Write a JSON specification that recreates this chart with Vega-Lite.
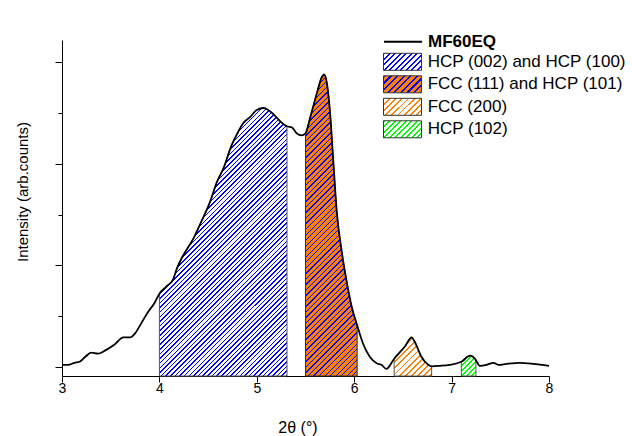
{
"$schema":"https://vega.github.io/schema/vega-lite/v6.json",
"width":487,"height":336,"autosize":"none",
"padding":{"left":62,"top":40,"right":83,"bottom":60},
"background":"#ffffff",
"config":{"view":{"stroke":null},"axis":{"grid":false,"domainColor":"#000","tickColor":"#000","labelColor":"#000","titleColor":"#000","labelFont":"Liberation Sans","titleFont":"Liberation Sans","zindex":1,"domainWidth":1,"tickWidth":1}},
"data":{"values":[{"x":3,"y":0.02},{"x":3.06,"y":0.02},{"x":3.13,"y":0.04},{"x":3.18,"y":0.05},{"x":3.24,"y":0.1},{"x":3.3,"y":0.14},{"x":3.37,"y":0.13},{"x":3.44,"y":0.16},{"x":3.54,"y":0.22},{"x":3.63,"y":0.29},{"x":3.7,"y":0.29},{"x":3.75,"y":0.33},{"x":3.82,"y":0.44},{"x":3.89,"y":0.55},{"x":3.95,"y":0.63},{"x":4,"y":0.72},{"x":4.07,"y":0.79},{"x":4.14,"y":0.86},{"x":4.18,"y":0.97},{"x":4.245,"y":1.1},{"x":4.35,"y":1.265},{"x":4.43,"y":1.43},{"x":4.52,"y":1.625},{"x":4.59,"y":1.82},{"x":4.655,"y":1.95},{"x":4.74,"y":2.18},{"x":4.79,"y":2.28},{"x":4.86,"y":2.4},{"x":4.93,"y":2.46},{"x":5,"y":2.53},{"x":5.07,"y":2.55},{"x":5.1,"y":2.54},{"x":5.17,"y":2.49},{"x":5.24,"y":2.42},{"x":5.31,"y":2.37},{"x":5.36,"y":2.36},{"x":5.41,"y":2.3},{"x":5.46,"y":2.28},{"x":5.5,"y":2.3},{"x":5.545,"y":2.445},{"x":5.615,"y":2.69},{"x":5.665,"y":2.85},{"x":5.69,"y":2.88},{"x":5.715,"y":2.82},{"x":5.75,"y":2.53},{"x":5.785,"y":2.035},{"x":5.82,"y":1.54},{"x":5.87,"y":1.15},{"x":5.92,"y":0.855},{"x":5.975,"y":0.59},{"x":6.03,"y":0.41},{"x":6.09,"y":0.23},{"x":6.16,"y":0.1},{"x":6.23,"y":0.036},{"x":6.28,"y":0.02},{"x":6.33,"y":-0.02},{"x":6.41,"y":0.08},{"x":6.52,"y":0.2},{"x":6.59,"y":0.29},{"x":6.62,"y":0.25},{"x":6.69,"y":0.1},{"x":6.76,"y":0.02},{"x":6.795,"y":0.005},{"x":6.88,"y":0.01},{"x":6.98,"y":0.02},{"x":7.1,"y":0.05},{"x":7.19,"y":0.11},{"x":7.24,"y":0.08},{"x":7.25,"y":0.065},{"x":7.29,"y":0.01},{"x":7.36,"y":0.02},{"x":7.43,"y":0.04},{"x":7.48,"y":0.02},{"x":7.565,"y":0.03},{"x":7.7,"y":0.04},{"x":7.84,"y":0.03},{"x":8,"y":0.01}]},
"encoding":{
"x":{"field":"x","type":"quantitative","scale":{"domain":[3,8],"nice":false,"zero":false},"axis":{"values":[3,3.5,4,4.5,5,5.5,6,6.5,7,7.5,8],"format":"d","labelExpr":"datum.value % 1 === 0 ? datum.label : ''","labelFlush":false,"labelOverlap":false,"labelFontSize":14,"labelPadding":-1,"tickSize":{"condition":{"test":"datum.value % 1 === 0","value":6},"value":3.5},"title":"2θ (°)","titleFontSize":16,"titleFontWeight":"normal","titleX":235.5,"titleY":51,"titleBaseline":"middle","titleAlign":"center"}},
"y":{"field":"y","type":"quantitative","scale":{"domain":[-0.09,3.22],"nice":false,"zero":false},"axis":{"values":[0,0.5,1,1.5,2,2.5,3],"labels":false,"tickSize":{"condition":{"test":"datum.value % 1 === 0","value":7},"value":4},"title":"Intensity (arb.counts)","titleFontSize":15,"titleFontWeight":"normal","titleX":-40,"titleY":151.5,"titleBaseline":"middle","titleAlign":"center"}}
},
"layer":[
{"transform":[{"filter":{"field":"x","range":[4,5.31]}}],"mark":{"type":"area","interpolate":"monotone"},"encoding":{"y2":{"datum":-0.09},"color":{"datum":"HCP (002) and HCP (100)","type":"nominal","scale":{"domain":["HCP (002) and HCP (100)","FCC (111) and HCP (101)","FCC (200)","HCP (102)"],"range":[
{"expr":"{gradient:'linear',x1:0,y1:0,x2:1.206,y2:0.543,stops:[{offset:0,color:'#00f'},{offset:0.033,color:'#00f'},{offset:0.033,color:'#fff'},{offset:0.1,color:'#fff'},{offset:0.1,color:'#00f'},{offset:0.133,color:'#00f'},{offset:0.133,color:'#fff'},{offset:0.2,color:'#fff'},{offset:0.2,color:'#00f'},{offset:0.233,color:'#00f'},{offset:0.233,color:'#fff'},{offset:0.3,color:'#fff'},{offset:0.3,color:'#00f'},{offset:0.333,color:'#00f'},{offset:0.333,color:'#fff'},{offset:0.4,color:'#fff'},{offset:0.4,color:'#00f'},{offset:0.433,color:'#00f'},{offset:0.433,color:'#fff'},{offset:0.5,color:'#fff'},{offset:0.5,color:'#00f'},{offset:0.533,color:'#00f'},{offset:0.533,color:'#fff'},{offset:0.6,color:'#fff'},{offset:0.6,color:'#00f'},{offset:0.633,color:'#00f'},{offset:0.633,color:'#fff'},{offset:0.7,color:'#fff'},{offset:0.7,color:'#00f'},{offset:0.733,color:'#00f'},{offset:0.733,color:'#fff'},{offset:0.8,color:'#fff'},{offset:0.8,color:'#00f'},{offset:0.833,color:'#00f'},{offset:0.833,color:'#fff'},{offset:0.9,color:'#fff'},{offset:0.9,color:'#00f'},{offset:0.933,color:'#00f'},{offset:0.933,color:'#fff'},{offset:1,color:'#fff'}]}"},
{"expr":"{gradient:'linear',x1:0,y1:0,x2:1.206,y2:0.543,stops:[{offset:0,color:'#00f'},{offset:0.04,color:'#00f'},{offset:0.04,color:'#ff8000'},{offset:0.12,color:'#ff8000'},{offset:0.12,color:'#00f'},{offset:0.16,color:'#00f'},{offset:0.16,color:'#ff8000'},{offset:0.24,color:'#ff8000'},{offset:0.24,color:'#00f'},{offset:0.28,color:'#00f'},{offset:0.28,color:'#ff8000'},{offset:0.36,color:'#ff8000'},{offset:0.36,color:'#00f'},{offset:0.4,color:'#00f'},{offset:0.4,color:'#ff8000'},{offset:0.48,color:'#ff8000'},{offset:0.48,color:'#00f'},{offset:0.52,color:'#00f'},{offset:0.52,color:'#ff8000'},{offset:0.6,color:'#ff8000'},{offset:0.6,color:'#00f'},{offset:0.64,color:'#00f'},{offset:0.64,color:'#ff8000'},{offset:0.72,color:'#ff8000'},{offset:0.72,color:'#00f'},{offset:0.76,color:'#00f'},{offset:0.76,color:'#ff8000'},{offset:0.84,color:'#ff8000'},{offset:0.84,color:'#00f'},{offset:0.88,color:'#00f'},{offset:0.88,color:'#ff8000'},{offset:0.96,color:'#ff8000'},{offset:0.96,color:'#00f'},{offset:1,color:'#00f'}]}"},
{"expr":"{gradient:'linear',x1:0,y1:0,x2:1.206,y2:0.543,stops:[{offset:0,color:'#ff8000'},{offset:0.035,color:'#ff8000'},{offset:0.035,color:'#fff'},{offset:0.11,color:'#fff'},{offset:0.11,color:'#ff8000'},{offset:0.145,color:'#ff8000'},{offset:0.145,color:'#fff'},{offset:0.22,color:'#fff'},{offset:0.22,color:'#ff8000'},{offset:0.255,color:'#ff8000'},{offset:0.255,color:'#fff'},{offset:0.33,color:'#fff'},{offset:0.33,color:'#ff8000'},{offset:0.365,color:'#ff8000'},{offset:0.365,color:'#fff'},{offset:0.44,color:'#fff'},{offset:0.44,color:'#ff8000'},{offset:0.475,color:'#ff8000'},{offset:0.475,color:'#fff'},{offset:0.55,color:'#fff'},{offset:0.55,color:'#ff8000'},{offset:0.585,color:'#ff8000'},{offset:0.585,color:'#fff'},{offset:0.66,color:'#fff'},{offset:0.66,color:'#ff8000'},{offset:0.695,color:'#ff8000'},{offset:0.695,color:'#fff'},{offset:0.77,color:'#fff'},{offset:0.77,color:'#ff8000'},{offset:0.805,color:'#ff8000'},{offset:0.805,color:'#fff'},{offset:0.88,color:'#fff'},{offset:0.88,color:'#ff8000'},{offset:0.915,color:'#ff8000'},{offset:0.915,color:'#fff'},{offset:0.99,color:'#fff'},{offset:0.99,color:'#ff8000'},{offset:1,color:'#ff8000'}]}"},
{"expr":"{gradient:'linear',x1:0,y1:0,x2:1.206,y2:0.543,stops:[{offset:0,color:'#0f0'},{offset:0.035,color:'#0f0'},{offset:0.035,color:'#fff'},{offset:0.1,color:'#fff'},{offset:0.1,color:'#0f0'},{offset:0.135,color:'#0f0'},{offset:0.135,color:'#fff'},{offset:0.2,color:'#fff'},{offset:0.2,color:'#0f0'},{offset:0.235,color:'#0f0'},{offset:0.235,color:'#fff'},{offset:0.3,color:'#fff'},{offset:0.3,color:'#0f0'},{offset:0.335,color:'#0f0'},{offset:0.335,color:'#fff'},{offset:0.4,color:'#fff'},{offset:0.4,color:'#0f0'},{offset:0.435,color:'#0f0'},{offset:0.435,color:'#fff'},{offset:0.5,color:'#fff'},{offset:0.5,color:'#0f0'},{offset:0.535,color:'#0f0'},{offset:0.535,color:'#fff'},{offset:0.6,color:'#fff'},{offset:0.6,color:'#0f0'},{offset:0.635,color:'#0f0'},{offset:0.635,color:'#fff'},{offset:0.7,color:'#fff'},{offset:0.7,color:'#0f0'},{offset:0.735,color:'#0f0'},{offset:0.735,color:'#fff'},{offset:0.8,color:'#fff'},{offset:0.8,color:'#0f0'},{offset:0.835,color:'#0f0'},{offset:0.835,color:'#fff'},{offset:0.9,color:'#fff'},{offset:0.9,color:'#0f0'},{offset:0.935,color:'#0f0'},{offset:0.935,color:'#fff'},{offset:1,color:'#fff'}]}"}
]},"legend":{"title":null,"orient":"none","legendX":331.5,"legendY":12.8,"symbolType":"M-2.235,-1L2.235,-1L2.235,1L-2.235,1Z","symbolSize":289,"symbolStrokeColor":"#333","symbolStrokeWidth":1,"labelFontSize":17,"labelFont":"Liberation Sans","labelColor":"#000","labelOffset":16.2,"rowPadding":0.5,"padding":0,"labelLimit":400}}}},
{"transform":[{"filter":{"field":"x","range":[5.5,6.03]}}],"mark":{"type":"area","interpolate":"monotone"},"encoding":{"y2":{"datum":-0.09},"color":{"datum":"FCC (111) and HCP (101)","type":"nominal"}}},
{"transform":[{"filter":{"field":"x","range":[6.41,6.795]}}],"mark":{"type":"area","interpolate":"monotone"},"encoding":{"y2":{"datum":-0.09},"color":{"datum":"FCC (200)","type":"nominal"}}},
{"transform":[{"filter":{"field":"x","range":[7.1,7.25]}}],"mark":{"type":"area","interpolate":"monotone"},"encoding":{"y2":{"datum":-0.09},"color":{"datum":"HCP (102)","type":"nominal"}}},
{"transform":[{"filter":{"field":"x","range":[4,5.31]}}],"mark":{"type":"area","interpolate":"monotone","stroke":"#555","strokeWidth":1,"fill":{"gradient":"linear","x1":0,"y1":0,"x2":0.5729,"y2":1.2033,"stops":[
{"offset":0,"color":"#00f"},{"offset":0.00391,"color":"#00f"},{"offset":0.00391,"color":"#fff"},{"offset":0.01172,"color":"#fff"},
{"offset":0.01172,"color":"#00f"},{"offset":0.01563,"color":"#00f"},{"offset":0.01563,"color":"#fff"},{"offset":0.02344,"color":"#fff"},
{"offset":0.02344,"color":"#00f"},{"offset":0.02734,"color":"#00f"},{"offset":0.02734,"color":"#fff"},{"offset":0.03516,"color":"#fff"},
{"offset":0.03516,"color":"#00f"},{"offset":0.03906,"color":"#00f"},{"offset":0.03906,"color":"#fff"},{"offset":0.04688,"color":"#fff"},
{"offset":0.04688,"color":"#00f"},{"offset":0.05078,"color":"#00f"},{"offset":0.05078,"color":"#fff"},{"offset":0.05859,"color":"#fff"},
{"offset":0.05859,"color":"#00f"},{"offset":0.0625,"color":"#00f"},{"offset":0.0625,"color":"#fff"},{"offset":0.07031,"color":"#fff"},
{"offset":0.07031,"color":"#00f"},{"offset":0.07422,"color":"#00f"},{"offset":0.07422,"color":"#fff"},{"offset":0.08203,"color":"#fff"},
{"offset":0.08203,"color":"#00f"},{"offset":0.08594,"color":"#00f"},{"offset":0.08594,"color":"#fff"},{"offset":0.09375,"color":"#fff"},
{"offset":0.09375,"color":"#00f"},{"offset":0.09766,"color":"#00f"},{"offset":0.09766,"color":"#fff"},{"offset":0.10547,"color":"#fff"},
{"offset":0.10547,"color":"#00f"},{"offset":0.10938,"color":"#00f"},{"offset":0.10938,"color":"#fff"},{"offset":0.11719,"color":"#fff"},
{"offset":0.11719,"color":"#00f"},{"offset":0.12109,"color":"#00f"},{"offset":0.12109,"color":"#fff"},{"offset":0.12891,"color":"#fff"},
{"offset":0.12891,"color":"#00f"},{"offset":0.13281,"color":"#00f"},{"offset":0.13281,"color":"#fff"},{"offset":0.14063,"color":"#fff"},
{"offset":0.14063,"color":"#00f"},{"offset":0.14453,"color":"#00f"},{"offset":0.14453,"color":"#fff"},{"offset":0.15234,"color":"#fff"},
{"offset":0.15234,"color":"#00f"},{"offset":0.15625,"color":"#00f"},{"offset":0.15625,"color":"#fff"},{"offset":0.16406,"color":"#fff"},
{"offset":0.16406,"color":"#00f"},{"offset":0.16797,"color":"#00f"},{"offset":0.16797,"color":"#fff"},{"offset":0.17578,"color":"#fff"},
{"offset":0.17578,"color":"#00f"},{"offset":0.17969,"color":"#00f"},{"offset":0.17969,"color":"#fff"},{"offset":0.1875,"color":"#fff"},
{"offset":0.1875,"color":"#00f"},{"offset":0.19141,"color":"#00f"},{"offset":0.19141,"color":"#fff"},{"offset":0.19922,"color":"#fff"},
{"offset":0.19922,"color":"#00f"},{"offset":0.20313,"color":"#00f"},{"offset":0.20313,"color":"#fff"},{"offset":0.21094,"color":"#fff"},
{"offset":0.21094,"color":"#00f"},{"offset":0.21484,"color":"#00f"},{"offset":0.21484,"color":"#fff"},{"offset":0.22266,"color":"#fff"},
{"offset":0.22266,"color":"#00f"},{"offset":0.22656,"color":"#00f"},{"offset":0.22656,"color":"#fff"},{"offset":0.23438,"color":"#fff"},
{"offset":0.23438,"color":"#00f"},{"offset":0.23828,"color":"#00f"},{"offset":0.23828,"color":"#fff"},{"offset":0.24609,"color":"#fff"},
{"offset":0.24609,"color":"#00f"},{"offset":0.25,"color":"#00f"},{"offset":0.25,"color":"#fff"},{"offset":0.25781,"color":"#fff"},
{"offset":0.25781,"color":"#00f"},{"offset":0.26172,"color":"#00f"},{"offset":0.26172,"color":"#fff"},{"offset":0.26953,"color":"#fff"},
{"offset":0.26953,"color":"#00f"},{"offset":0.27344,"color":"#00f"},{"offset":0.27344,"color":"#fff"},{"offset":0.28125,"color":"#fff"},
{"offset":0.28125,"color":"#00f"},{"offset":0.28516,"color":"#00f"},{"offset":0.28516,"color":"#fff"},{"offset":0.29297,"color":"#fff"},
{"offset":0.29297,"color":"#00f"},{"offset":0.29688,"color":"#00f"},{"offset":0.29688,"color":"#fff"},{"offset":0.30469,"color":"#fff"},
{"offset":0.30469,"color":"#00f"},{"offset":0.30859,"color":"#00f"},{"offset":0.30859,"color":"#fff"},{"offset":0.31641,"color":"#fff"},
{"offset":0.31641,"color":"#00f"},{"offset":0.32031,"color":"#00f"},{"offset":0.32031,"color":"#fff"},{"offset":0.32813,"color":"#fff"},
{"offset":0.32813,"color":"#00f"},{"offset":0.33203,"color":"#00f"},{"offset":0.33203,"color":"#fff"},{"offset":0.33984,"color":"#fff"},
{"offset":0.33984,"color":"#00f"},{"offset":0.34375,"color":"#00f"},{"offset":0.34375,"color":"#fff"},{"offset":0.35156,"color":"#fff"},
{"offset":0.35156,"color":"#00f"},{"offset":0.35547,"color":"#00f"},{"offset":0.35547,"color":"#fff"},{"offset":0.36328,"color":"#fff"},
{"offset":0.36328,"color":"#00f"},{"offset":0.36719,"color":"#00f"},{"offset":0.36719,"color":"#fff"},{"offset":0.375,"color":"#fff"},
{"offset":0.375,"color":"#00f"},{"offset":0.37891,"color":"#00f"},{"offset":0.37891,"color":"#fff"},{"offset":0.38672,"color":"#fff"},
{"offset":0.38672,"color":"#00f"},{"offset":0.39063,"color":"#00f"},{"offset":0.39063,"color":"#fff"},{"offset":0.39844,"color":"#fff"},
{"offset":0.39844,"color":"#00f"},{"offset":0.40234,"color":"#00f"},{"offset":0.40234,"color":"#fff"},{"offset":0.41016,"color":"#fff"},
{"offset":0.41016,"color":"#00f"},{"offset":0.41406,"color":"#00f"},{"offset":0.41406,"color":"#fff"},{"offset":0.42188,"color":"#fff"},
{"offset":0.42188,"color":"#00f"},{"offset":0.42578,"color":"#00f"},{"offset":0.42578,"color":"#fff"},{"offset":0.43359,"color":"#fff"},
{"offset":0.43359,"color":"#00f"},{"offset":0.4375,"color":"#00f"},{"offset":0.4375,"color":"#fff"},{"offset":0.44531,"color":"#fff"},
{"offset":0.44531,"color":"#00f"},{"offset":0.44922,"color":"#00f"},{"offset":0.44922,"color":"#fff"},{"offset":0.45703,"color":"#fff"},
{"offset":0.45703,"color":"#00f"},{"offset":0.46094,"color":"#00f"},{"offset":0.46094,"color":"#fff"},{"offset":0.46875,"color":"#fff"},
{"offset":0.46875,"color":"#00f"},{"offset":0.47266,"color":"#00f"},{"offset":0.47266,"color":"#fff"},{"offset":0.48047,"color":"#fff"},
{"offset":0.48047,"color":"#00f"},{"offset":0.48438,"color":"#00f"},{"offset":0.48438,"color":"#fff"},{"offset":0.49219,"color":"#fff"},
{"offset":0.49219,"color":"#00f"},{"offset":0.49609,"color":"#00f"},{"offset":0.49609,"color":"#fff"},{"offset":0.50391,"color":"#fff"},
{"offset":0.50391,"color":"#00f"},{"offset":0.50781,"color":"#00f"},{"offset":0.50781,"color":"#fff"},{"offset":0.51563,"color":"#fff"},
{"offset":0.51563,"color":"#00f"},{"offset":0.51953,"color":"#00f"},{"offset":0.51953,"color":"#fff"},{"offset":0.52734,"color":"#fff"},
{"offset":0.52734,"color":"#00f"},{"offset":0.53125,"color":"#00f"},{"offset":0.53125,"color":"#fff"},{"offset":0.53906,"color":"#fff"},
{"offset":0.53906,"color":"#00f"},{"offset":0.54297,"color":"#00f"},{"offset":0.54297,"color":"#fff"},{"offset":0.55078,"color":"#fff"},
{"offset":0.55078,"color":"#00f"},{"offset":0.55469,"color":"#00f"},{"offset":0.55469,"color":"#fff"},{"offset":0.5625,"color":"#fff"},
{"offset":0.5625,"color":"#00f"},{"offset":0.56641,"color":"#00f"},{"offset":0.56641,"color":"#fff"},{"offset":0.57422,"color":"#fff"},
{"offset":0.57422,"color":"#00f"},{"offset":0.57813,"color":"#00f"},{"offset":0.57813,"color":"#fff"},{"offset":0.58594,"color":"#fff"},
{"offset":0.58594,"color":"#00f"},{"offset":0.58984,"color":"#00f"},{"offset":0.58984,"color":"#fff"},{"offset":0.59766,"color":"#fff"},
{"offset":0.59766,"color":"#00f"},{"offset":0.60156,"color":"#00f"},{"offset":0.60156,"color":"#fff"},{"offset":0.60938,"color":"#fff"},
{"offset":0.60938,"color":"#00f"},{"offset":0.61328,"color":"#00f"},{"offset":0.61328,"color":"#fff"},{"offset":0.62109,"color":"#fff"},
{"offset":0.62109,"color":"#00f"},{"offset":0.625,"color":"#00f"},{"offset":0.625,"color":"#fff"},{"offset":0.63281,"color":"#fff"},
{"offset":0.63281,"color":"#00f"},{"offset":0.63672,"color":"#00f"},{"offset":0.63672,"color":"#fff"},{"offset":0.64453,"color":"#fff"},
{"offset":0.64453,"color":"#00f"},{"offset":0.64844,"color":"#00f"},{"offset":0.64844,"color":"#fff"},{"offset":0.65625,"color":"#fff"},
{"offset":0.65625,"color":"#00f"},{"offset":0.66016,"color":"#00f"},{"offset":0.66016,"color":"#fff"},{"offset":0.66797,"color":"#fff"},
{"offset":0.66797,"color":"#00f"},{"offset":0.67188,"color":"#00f"},{"offset":0.67188,"color":"#fff"},{"offset":0.67969,"color":"#fff"},
{"offset":0.67969,"color":"#00f"},{"offset":0.68359,"color":"#00f"},{"offset":0.68359,"color":"#fff"},{"offset":0.69141,"color":"#fff"},
{"offset":0.69141,"color":"#00f"},{"offset":0.69531,"color":"#00f"},{"offset":0.69531,"color":"#fff"},{"offset":0.70313,"color":"#fff"},
{"offset":0.70313,"color":"#00f"},{"offset":0.70703,"color":"#00f"},{"offset":0.70703,"color":"#fff"},{"offset":0.71484,"color":"#fff"},
{"offset":0.71484,"color":"#00f"},{"offset":0.71875,"color":"#00f"},{"offset":0.71875,"color":"#fff"},{"offset":0.72656,"color":"#fff"},
{"offset":0.72656,"color":"#00f"},{"offset":0.73047,"color":"#00f"},{"offset":0.73047,"color":"#fff"},{"offset":0.73828,"color":"#fff"},
{"offset":0.73828,"color":"#00f"},{"offset":0.74219,"color":"#00f"},{"offset":0.74219,"color":"#fff"},{"offset":0.75,"color":"#fff"},
{"offset":0.75,"color":"#00f"},{"offset":0.75391,"color":"#00f"},{"offset":0.75391,"color":"#fff"},{"offset":0.76172,"color":"#fff"},
{"offset":0.76172,"color":"#00f"},{"offset":0.76563,"color":"#00f"},{"offset":0.76563,"color":"#fff"},{"offset":0.77344,"color":"#fff"},
{"offset":0.77344,"color":"#00f"},{"offset":0.77734,"color":"#00f"},{"offset":0.77734,"color":"#fff"},{"offset":0.78516,"color":"#fff"},
{"offset":0.78516,"color":"#00f"},{"offset":0.78906,"color":"#00f"},{"offset":0.78906,"color":"#fff"},{"offset":0.79688,"color":"#fff"},
{"offset":0.79688,"color":"#00f"},{"offset":0.80078,"color":"#00f"},{"offset":0.80078,"color":"#fff"},{"offset":0.80859,"color":"#fff"},
{"offset":0.80859,"color":"#00f"},{"offset":0.8125,"color":"#00f"},{"offset":0.8125,"color":"#fff"},{"offset":0.82031,"color":"#fff"},
{"offset":0.82031,"color":"#00f"},{"offset":0.82422,"color":"#00f"},{"offset":0.82422,"color":"#fff"},{"offset":0.83203,"color":"#fff"},
{"offset":0.83203,"color":"#00f"},{"offset":0.83594,"color":"#00f"},{"offset":0.83594,"color":"#fff"},{"offset":0.84375,"color":"#fff"},
{"offset":0.84375,"color":"#00f"},{"offset":0.84766,"color":"#00f"},{"offset":0.84766,"color":"#fff"},{"offset":0.85547,"color":"#fff"},
{"offset":0.85547,"color":"#00f"},{"offset":0.85938,"color":"#00f"},{"offset":0.85938,"color":"#fff"},{"offset":0.86719,"color":"#fff"},
{"offset":0.86719,"color":"#00f"},{"offset":0.87109,"color":"#00f"},{"offset":0.87109,"color":"#fff"},{"offset":0.87891,"color":"#fff"},
{"offset":0.87891,"color":"#00f"},{"offset":0.88281,"color":"#00f"},{"offset":0.88281,"color":"#fff"},{"offset":0.89063,"color":"#fff"},
{"offset":0.89063,"color":"#00f"},{"offset":0.89453,"color":"#00f"},{"offset":0.89453,"color":"#fff"},{"offset":0.90234,"color":"#fff"},
{"offset":0.90234,"color":"#00f"},{"offset":0.90625,"color":"#00f"},{"offset":0.90625,"color":"#fff"},{"offset":0.91406,"color":"#fff"},
{"offset":0.91406,"color":"#00f"},{"offset":0.91797,"color":"#00f"},{"offset":0.91797,"color":"#fff"},{"offset":0.92578,"color":"#fff"},
{"offset":0.92578,"color":"#00f"},{"offset":0.92969,"color":"#00f"},{"offset":0.92969,"color":"#fff"},{"offset":0.9375,"color":"#fff"},
{"offset":0.9375,"color":"#00f"},{"offset":0.94141,"color":"#00f"},{"offset":0.94141,"color":"#fff"},{"offset":0.94922,"color":"#fff"},
{"offset":0.94922,"color":"#00f"},{"offset":0.95313,"color":"#00f"},{"offset":0.95313,"color":"#fff"},{"offset":0.96094,"color":"#fff"},
{"offset":0.96094,"color":"#00f"},{"offset":0.96484,"color":"#00f"},{"offset":0.96484,"color":"#fff"},{"offset":0.97266,"color":"#fff"},
{"offset":0.97266,"color":"#00f"},{"offset":0.97656,"color":"#00f"},{"offset":0.97656,"color":"#fff"},{"offset":0.98438,"color":"#fff"},
{"offset":0.98438,"color":"#00f"},{"offset":0.98828,"color":"#00f"},{"offset":0.98828,"color":"#fff"},{"offset":0.99609,"color":"#fff"},
{"offset":0.99609,"color":"#00f"},{"offset":1,"color":"#00f"}
]}},"encoding":{"y2":{"datum":-0.09}}},
{"transform":[{"filter":{"field":"x","range":[5.5,6.03]}}],"mark":{"type":"area","interpolate":"monotone","stroke":"#333","strokeWidth":1,"fill":{"gradient":"linear","x1":0,"y1":0,"x2":0.1947,"y2":1.1378,"stops":[
{"offset":0,"color":"#00f"},{"offset":0.00391,"color":"#00f"},{"offset":0.00391,"color":"#ff8000"},{"offset":0.01563,"color":"#ff8000"},
{"offset":0.01563,"color":"#00f"},{"offset":0.01953,"color":"#00f"},{"offset":0.01953,"color":"#ff8000"},{"offset":0.03125,"color":"#ff8000"},
{"offset":0.03125,"color":"#00f"},{"offset":0.03516,"color":"#00f"},{"offset":0.03516,"color":"#ff8000"},{"offset":0.04688,"color":"#ff8000"},
{"offset":0.04688,"color":"#00f"},{"offset":0.05078,"color":"#00f"},{"offset":0.05078,"color":"#ff8000"},{"offset":0.0625,"color":"#ff8000"},
{"offset":0.0625,"color":"#00f"},{"offset":0.06641,"color":"#00f"},{"offset":0.06641,"color":"#ff8000"},{"offset":0.07813,"color":"#ff8000"},
{"offset":0.07813,"color":"#00f"},{"offset":0.08203,"color":"#00f"},{"offset":0.08203,"color":"#ff8000"},{"offset":0.09375,"color":"#ff8000"},
{"offset":0.09375,"color":"#00f"},{"offset":0.09766,"color":"#00f"},{"offset":0.09766,"color":"#ff8000"},{"offset":0.10938,"color":"#ff8000"},
{"offset":0.10938,"color":"#00f"},{"offset":0.11328,"color":"#00f"},{"offset":0.11328,"color":"#ff8000"},{"offset":0.125,"color":"#ff8000"},
{"offset":0.125,"color":"#00f"},{"offset":0.12891,"color":"#00f"},{"offset":0.12891,"color":"#ff8000"},{"offset":0.14063,"color":"#ff8000"},
{"offset":0.14063,"color":"#00f"},{"offset":0.14453,"color":"#00f"},{"offset":0.14453,"color":"#ff8000"},{"offset":0.15625,"color":"#ff8000"},
{"offset":0.15625,"color":"#00f"},{"offset":0.16016,"color":"#00f"},{"offset":0.16016,"color":"#ff8000"},{"offset":0.17188,"color":"#ff8000"},
{"offset":0.17188,"color":"#00f"},{"offset":0.17578,"color":"#00f"},{"offset":0.17578,"color":"#ff8000"},{"offset":0.1875,"color":"#ff8000"},
{"offset":0.1875,"color":"#00f"},{"offset":0.19141,"color":"#00f"},{"offset":0.19141,"color":"#ff8000"},{"offset":0.20313,"color":"#ff8000"},
{"offset":0.20313,"color":"#00f"},{"offset":0.20703,"color":"#00f"},{"offset":0.20703,"color":"#ff8000"},{"offset":0.21875,"color":"#ff8000"},
{"offset":0.21875,"color":"#00f"},{"offset":0.22266,"color":"#00f"},{"offset":0.22266,"color":"#ff8000"},{"offset":0.23438,"color":"#ff8000"},
{"offset":0.23438,"color":"#00f"},{"offset":0.23828,"color":"#00f"},{"offset":0.23828,"color":"#ff8000"},{"offset":0.25,"color":"#ff8000"},
{"offset":0.25,"color":"#00f"},{"offset":0.25391,"color":"#00f"},{"offset":0.25391,"color":"#ff8000"},{"offset":0.26563,"color":"#ff8000"},
{"offset":0.26563,"color":"#00f"},{"offset":0.26953,"color":"#00f"},{"offset":0.26953,"color":"#ff8000"},{"offset":0.28125,"color":"#ff8000"},
{"offset":0.28125,"color":"#00f"},{"offset":0.28516,"color":"#00f"},{"offset":0.28516,"color":"#ff8000"},{"offset":0.29688,"color":"#ff8000"},
{"offset":0.29688,"color":"#00f"},{"offset":0.30078,"color":"#00f"},{"offset":0.30078,"color":"#ff8000"},{"offset":0.3125,"color":"#ff8000"},
{"offset":0.3125,"color":"#00f"},{"offset":0.31641,"color":"#00f"},{"offset":0.31641,"color":"#ff8000"},{"offset":0.32813,"color":"#ff8000"},
{"offset":0.32813,"color":"#00f"},{"offset":0.33203,"color":"#00f"},{"offset":0.33203,"color":"#ff8000"},{"offset":0.34375,"color":"#ff8000"},
{"offset":0.34375,"color":"#00f"},{"offset":0.34766,"color":"#00f"},{"offset":0.34766,"color":"#ff8000"},{"offset":0.35938,"color":"#ff8000"},
{"offset":0.35938,"color":"#00f"},{"offset":0.36328,"color":"#00f"},{"offset":0.36328,"color":"#ff8000"},{"offset":0.375,"color":"#ff8000"},
{"offset":0.375,"color":"#00f"},{"offset":0.37891,"color":"#00f"},{"offset":0.37891,"color":"#ff8000"},{"offset":0.39063,"color":"#ff8000"},
{"offset":0.39063,"color":"#00f"},{"offset":0.39453,"color":"#00f"},{"offset":0.39453,"color":"#ff8000"},{"offset":0.40625,"color":"#ff8000"},
{"offset":0.40625,"color":"#00f"},{"offset":0.41016,"color":"#00f"},{"offset":0.41016,"color":"#ff8000"},{"offset":0.42188,"color":"#ff8000"},
{"offset":0.42188,"color":"#00f"},{"offset":0.42578,"color":"#00f"},{"offset":0.42578,"color":"#ff8000"},{"offset":0.4375,"color":"#ff8000"},
{"offset":0.4375,"color":"#00f"},{"offset":0.44141,"color":"#00f"},{"offset":0.44141,"color":"#ff8000"},{"offset":0.45313,"color":"#ff8000"},
{"offset":0.45313,"color":"#00f"},{"offset":0.45703,"color":"#00f"},{"offset":0.45703,"color":"#ff8000"},{"offset":0.46875,"color":"#ff8000"},
{"offset":0.46875,"color":"#00f"},{"offset":0.47266,"color":"#00f"},{"offset":0.47266,"color":"#ff8000"},{"offset":0.48438,"color":"#ff8000"},
{"offset":0.48438,"color":"#00f"},{"offset":0.48828,"color":"#00f"},{"offset":0.48828,"color":"#ff8000"},{"offset":0.5,"color":"#ff8000"},
{"offset":0.5,"color":"#00f"},{"offset":0.50391,"color":"#00f"},{"offset":0.50391,"color":"#ff8000"},{"offset":0.51563,"color":"#ff8000"},
{"offset":0.51563,"color":"#00f"},{"offset":0.51953,"color":"#00f"},{"offset":0.51953,"color":"#ff8000"},{"offset":0.53125,"color":"#ff8000"},
{"offset":0.53125,"color":"#00f"},{"offset":0.53516,"color":"#00f"},{"offset":0.53516,"color":"#ff8000"},{"offset":0.54688,"color":"#ff8000"},
{"offset":0.54688,"color":"#00f"},{"offset":0.55078,"color":"#00f"},{"offset":0.55078,"color":"#ff8000"},{"offset":0.5625,"color":"#ff8000"},
{"offset":0.5625,"color":"#00f"},{"offset":0.56641,"color":"#00f"},{"offset":0.56641,"color":"#ff8000"},{"offset":0.57813,"color":"#ff8000"},
{"offset":0.57813,"color":"#00f"},{"offset":0.58203,"color":"#00f"},{"offset":0.58203,"color":"#ff8000"},{"offset":0.59375,"color":"#ff8000"},
{"offset":0.59375,"color":"#00f"},{"offset":0.59766,"color":"#00f"},{"offset":0.59766,"color":"#ff8000"},{"offset":0.60938,"color":"#ff8000"},
{"offset":0.60938,"color":"#00f"},{"offset":0.61328,"color":"#00f"},{"offset":0.61328,"color":"#ff8000"},{"offset":0.625,"color":"#ff8000"},
{"offset":0.625,"color":"#00f"},{"offset":0.62891,"color":"#00f"},{"offset":0.62891,"color":"#ff8000"},{"offset":0.64063,"color":"#ff8000"},
{"offset":0.64063,"color":"#00f"},{"offset":0.64453,"color":"#00f"},{"offset":0.64453,"color":"#ff8000"},{"offset":0.65625,"color":"#ff8000"},
{"offset":0.65625,"color":"#00f"},{"offset":0.66016,"color":"#00f"},{"offset":0.66016,"color":"#ff8000"},{"offset":0.67188,"color":"#ff8000"},
{"offset":0.67188,"color":"#00f"},{"offset":0.67578,"color":"#00f"},{"offset":0.67578,"color":"#ff8000"},{"offset":0.6875,"color":"#ff8000"},
{"offset":0.6875,"color":"#00f"},{"offset":0.69141,"color":"#00f"},{"offset":0.69141,"color":"#ff8000"},{"offset":0.70313,"color":"#ff8000"},
{"offset":0.70313,"color":"#00f"},{"offset":0.70703,"color":"#00f"},{"offset":0.70703,"color":"#ff8000"},{"offset":0.71875,"color":"#ff8000"},
{"offset":0.71875,"color":"#00f"},{"offset":0.72266,"color":"#00f"},{"offset":0.72266,"color":"#ff8000"},{"offset":0.73438,"color":"#ff8000"},
{"offset":0.73438,"color":"#00f"},{"offset":0.73828,"color":"#00f"},{"offset":0.73828,"color":"#ff8000"},{"offset":0.75,"color":"#ff8000"},
{"offset":0.75,"color":"#00f"},{"offset":0.75391,"color":"#00f"},{"offset":0.75391,"color":"#ff8000"},{"offset":0.76563,"color":"#ff8000"},
{"offset":0.76563,"color":"#00f"},{"offset":0.76953,"color":"#00f"},{"offset":0.76953,"color":"#ff8000"},{"offset":0.78125,"color":"#ff8000"},
{"offset":0.78125,"color":"#00f"},{"offset":0.78516,"color":"#00f"},{"offset":0.78516,"color":"#ff8000"},{"offset":0.79688,"color":"#ff8000"},
{"offset":0.79688,"color":"#00f"},{"offset":0.80078,"color":"#00f"},{"offset":0.80078,"color":"#ff8000"},{"offset":0.8125,"color":"#ff8000"},
{"offset":0.8125,"color":"#00f"},{"offset":0.81641,"color":"#00f"},{"offset":0.81641,"color":"#ff8000"},{"offset":0.82813,"color":"#ff8000"},
{"offset":0.82813,"color":"#00f"},{"offset":0.83203,"color":"#00f"},{"offset":0.83203,"color":"#ff8000"},{"offset":0.84375,"color":"#ff8000"},
{"offset":0.84375,"color":"#00f"},{"offset":0.84766,"color":"#00f"},{"offset":0.84766,"color":"#ff8000"},{"offset":0.85938,"color":"#ff8000"},
{"offset":0.85938,"color":"#00f"},{"offset":0.86328,"color":"#00f"},{"offset":0.86328,"color":"#ff8000"},{"offset":0.875,"color":"#ff8000"},
{"offset":0.875,"color":"#00f"},{"offset":0.87891,"color":"#00f"},{"offset":0.87891,"color":"#ff8000"},{"offset":0.89063,"color":"#ff8000"},
{"offset":0.89063,"color":"#00f"},{"offset":0.89453,"color":"#00f"},{"offset":0.89453,"color":"#ff8000"},{"offset":0.90625,"color":"#ff8000"},
{"offset":0.90625,"color":"#00f"},{"offset":0.91016,"color":"#00f"},{"offset":0.91016,"color":"#ff8000"},{"offset":0.92188,"color":"#ff8000"},
{"offset":0.92188,"color":"#00f"},{"offset":0.92578,"color":"#00f"},{"offset":0.92578,"color":"#ff8000"},{"offset":0.9375,"color":"#ff8000"},
{"offset":0.9375,"color":"#00f"},{"offset":0.94141,"color":"#00f"},{"offset":0.94141,"color":"#ff8000"},{"offset":0.95313,"color":"#ff8000"},
{"offset":0.95313,"color":"#00f"},{"offset":0.95703,"color":"#00f"},{"offset":0.95703,"color":"#ff8000"},{"offset":0.96875,"color":"#ff8000"},
{"offset":0.96875,"color":"#00f"},{"offset":0.97266,"color":"#00f"},{"offset":0.97266,"color":"#ff8000"},{"offset":0.98438,"color":"#ff8000"},
{"offset":0.98438,"color":"#00f"},{"offset":0.98828,"color":"#00f"},{"offset":0.98828,"color":"#ff8000"},{"offset":1,"color":"#ff8000"}
]}},"encoding":{"y2":{"datum":-0.09}}},
{"transform":[{"filter":{"field":"x","range":[6.41,6.795]}}],"mark":{"type":"area","interpolate":"monotone","stroke":"#555","strokeWidth":1,"fill":{"gradient":"linear","x1":0,"y1":0,"x2":0.985,"y2":1.014,"stops":[
{"offset":0,"color":"#ff8000"},{"offset":0.025,"color":"#ff8000"},{"offset":0.025,"color":"#fff"},{"offset":0.08,"color":"#fff"},
{"offset":0.08,"color":"#ff8000"},{"offset":0.105,"color":"#ff8000"},{"offset":0.105,"color":"#fff"},{"offset":0.16,"color":"#fff"},
{"offset":0.16,"color":"#ff8000"},{"offset":0.185,"color":"#ff8000"},{"offset":0.185,"color":"#fff"},{"offset":0.24,"color":"#fff"},
{"offset":0.24,"color":"#ff8000"},{"offset":0.265,"color":"#ff8000"},{"offset":0.265,"color":"#fff"},{"offset":0.32,"color":"#fff"},
{"offset":0.32,"color":"#ff8000"},{"offset":0.345,"color":"#ff8000"},{"offset":0.345,"color":"#fff"},{"offset":0.4,"color":"#fff"},
{"offset":0.4,"color":"#ff8000"},{"offset":0.425,"color":"#ff8000"},{"offset":0.425,"color":"#fff"},{"offset":0.48,"color":"#fff"},
{"offset":0.48,"color":"#ff8000"},{"offset":0.505,"color":"#ff8000"},{"offset":0.505,"color":"#fff"},{"offset":0.56,"color":"#fff"},
{"offset":0.56,"color":"#ff8000"},{"offset":0.585,"color":"#ff8000"},{"offset":0.585,"color":"#fff"},{"offset":0.64,"color":"#fff"},
{"offset":0.64,"color":"#ff8000"},{"offset":0.665,"color":"#ff8000"},{"offset":0.665,"color":"#fff"},{"offset":0.72,"color":"#fff"},
{"offset":0.72,"color":"#ff8000"},{"offset":0.745,"color":"#ff8000"},{"offset":0.745,"color":"#fff"},{"offset":0.8,"color":"#fff"},
{"offset":0.8,"color":"#ff8000"},{"offset":0.825,"color":"#ff8000"},{"offset":0.825,"color":"#fff"},{"offset":0.88,"color":"#fff"},
{"offset":0.88,"color":"#ff8000"},{"offset":0.905,"color":"#ff8000"},{"offset":0.905,"color":"#fff"},{"offset":0.96,"color":"#fff"},
{"offset":0.96,"color":"#ff8000"},{"offset":0.985,"color":"#ff8000"},{"offset":0.985,"color":"#fff"},{"offset":1,"color":"#fff"}
]}},"encoding":{"y2":{"datum":-0.09}}},
{"transform":[{"filter":{"field":"x","range":[7.1,7.25]}}],"mark":{"type":"area","interpolate":"monotone","stroke":"#555","strokeWidth":1,"fill":{"gradient":"linear","x1":0,"y1":0,"x2":0.815,"y2":1.133,"stops":[
{"offset":0,"color":"#0f0"},{"offset":0.05,"color":"#0f0"},{"offset":0.05,"color":"#fff"},{"offset":0.14,"color":"#fff"},
{"offset":0.14,"color":"#0f0"},{"offset":0.19,"color":"#0f0"},{"offset":0.19,"color":"#fff"},{"offset":0.28,"color":"#fff"},
{"offset":0.28,"color":"#0f0"},{"offset":0.33,"color":"#0f0"},{"offset":0.33,"color":"#fff"},{"offset":0.42,"color":"#fff"},
{"offset":0.42,"color":"#0f0"},{"offset":0.47,"color":"#0f0"},{"offset":0.47,"color":"#fff"},{"offset":0.56,"color":"#fff"},
{"offset":0.56,"color":"#0f0"},{"offset":0.61,"color":"#0f0"},{"offset":0.61,"color":"#fff"},{"offset":0.7,"color":"#fff"},
{"offset":0.7,"color":"#0f0"},{"offset":0.75,"color":"#0f0"},{"offset":0.75,"color":"#fff"},{"offset":0.84,"color":"#fff"},
{"offset":0.84,"color":"#0f0"},{"offset":0.89,"color":"#0f0"},{"offset":0.89,"color":"#fff"},{"offset":0.98,"color":"#fff"},
{"offset":0.98,"color":"#0f0"},{"offset":1,"color":"#0f0"}
]}},"encoding":{"y2":{"datum":-0.09}}},
{"mark":{"type":"line","interpolate":"monotone","strokeWidth":1.8},"encoding":{"stroke":{"datum":"MF60EQ","type":"nominal","scale":{"range":["#000000"]},"legend":{"title":null,"orient":"none","legendX":321,"legendY":-18.3,"symbolType":"stroke","symbolSize":1444,"symbolStrokeWidth":2,"labelFontSize":17,"labelFontWeight":"bold","labelFont":"Liberation Sans","labelColor":"#000","labelOffset":5,"padding":0}}}}
]
}
